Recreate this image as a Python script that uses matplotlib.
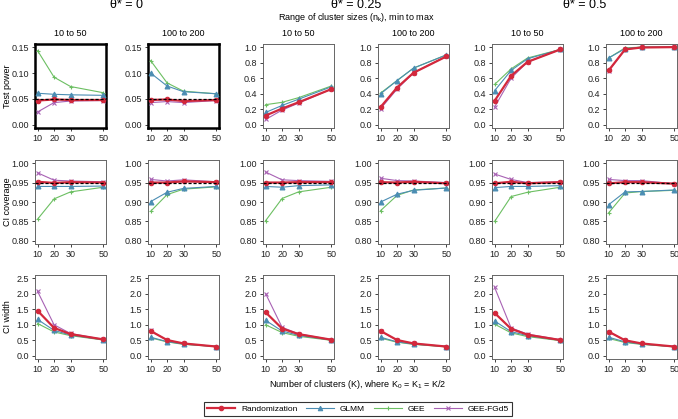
import numpy as np
import matplotlib
matplotlib.use('Agg')
import matplotlib.pyplot as plt
from matplotlib.lines import Line2D

# number of clusters
K = [10, 20, 30, 50]

methods = ['Randomization', 'GLMM', 'GEE', 'GEE-FGd5']
colors = {'Randomization': '#D3283C', 'GLMM': '#4B8DB3', 'GEE': '#6CBF62', 'GEE-FGd5': '#A862B4'}
markers = {'Randomization': 'o', 'GLMM': '^', 'GEE': '+', 'GEE-FGd5': 'x'}

theta_titles = ['θ* = 0', 'θ* = 0.25', 'θ* = 0.5']
size_titles = ['10 to 50', '100 to 200']

# test power, one dict per column (theta x cluster size range)
power = [
    {'Randomization': [0.047, 0.049, 0.048, 0.048], 'GLMM': [0.061, 0.059, 0.058, 0.057],
     'GEE': [0.143, 0.092, 0.074, 0.062], 'GEE-FGd5': [0.025, 0.043, 0.046, 0.047]},
    {'Randomization': [0.048, 0.049, 0.046, 0.048], 'GLMM': [0.100, 0.075, 0.064, 0.060],
     'GEE': [0.124, 0.081, 0.065, 0.060], 'GEE-FGd5': [0.043, 0.045, 0.043, 0.047]},
    {'Randomization': [0.12, 0.21, 0.29, 0.46], 'GLMM': [0.16, 0.25, 0.33, 0.49],
     'GEE': [0.26, 0.29, 0.35, 0.50], 'GEE-FGd5': [0.07, 0.19, 0.28, 0.46]},
    {'Randomization': [0.23, 0.48, 0.67, 0.88], 'GLMM': [0.40, 0.57, 0.73, 0.90],
     'GEE': [0.41, 0.57, 0.73, 0.90], 'GEE-FGd5': [0.21, 0.46, 0.67, 0.88]},
    {'Randomization': [0.31, 0.63, 0.81, 0.97], 'GLMM': [0.44, 0.70, 0.85, 0.97],
     'GEE': [0.52, 0.72, 0.86, 0.97], 'GEE-FGd5': [0.23, 0.60, 0.81, 0.97]},
    {'Randomization': [0.70, 0.97, 0.995, 1.0], 'GLMM': [0.86, 0.98, 1.0, 1.0],
     'GEE': [0.86, 0.99, 1.0, 1.0], 'GEE-FGd5': [0.69, 0.97, 0.995, 1.0]},
]

coverage = [
    {'Randomization': [0.952, 0.949, 0.951, 0.950], 'GLMM': [0.940, 0.940, 0.940, 0.941],
     'GEE': [0.856, 0.908, 0.926, 0.938], 'GEE-FGd5': [0.975, 0.956, 0.954, 0.952]},
    {'Randomization': [0.950, 0.950, 0.953, 0.951], 'GLMM': [0.901, 0.925, 0.935, 0.940],
     'GEE': [0.876, 0.919, 0.933, 0.939], 'GEE-FGd5': [0.958, 0.954, 0.957, 0.952]},
    {'Randomization': [0.950, 0.950, 0.951, 0.951], 'GLMM': [0.940, 0.938, 0.942, 0.944],
     'GEE': [0.852, 0.909, 0.926, 0.938], 'GEE-FGd5': [0.977, 0.957, 0.955, 0.953]},
    {'Randomization': [0.951, 0.950, 0.952, 0.948], 'GLMM': [0.900, 0.920, 0.930, 0.936],
     'GEE': [0.878, 0.917, 0.931, 0.936], 'GEE-FGd5': [0.961, 0.955, 0.954, 0.950]},
    {'Randomization': [0.948, 0.952, 0.948, 0.951], 'GLMM': [0.937, 0.940, 0.940, 0.942],
     'GEE': [0.850, 0.914, 0.925, 0.938], 'GEE-FGd5': [0.972, 0.958, 0.950, 0.952]},
    {'Randomization': [0.948, 0.951, 0.951, 0.947], 'GLMM': [0.893, 0.926, 0.927, 0.931],
     'GEE': [0.872, 0.923, 0.927, 0.930], 'GEE-FGd5': [0.958, 0.955, 0.955, 0.947]},
]

width = [
    {'Randomization': [1.45, 0.90, 0.70, 0.53], 'GLMM': [1.17, 0.82, 0.67, 0.52],
     'GEE': [1.04, 0.77, 0.65, 0.51], 'GEE-FGd5': [2.07, 1.00, 0.72, 0.53]},
    {'Randomization': [0.80, 0.51, 0.40, 0.30], 'GLMM': [0.60, 0.46, 0.38, 0.30],
     'GEE': [0.58, 0.45, 0.37, 0.30], 'GEE-FGd5': [0.82, 0.50, 0.40, 0.30]},
    {'Randomization': [1.40, 0.88, 0.70, 0.52], 'GLMM': [1.14, 0.80, 0.66, 0.51],
     'GEE': [1.00, 0.75, 0.63, 0.50], 'GEE-FGd5': [2.00, 0.92, 0.71, 0.52]},
    {'Randomization': [0.80, 0.51, 0.40, 0.30], 'GLMM': [0.60, 0.45, 0.38, 0.30],
     'GEE': [0.57, 0.44, 0.37, 0.29], 'GEE-FGd5': [0.80, 0.50, 0.40, 0.30]},
    {'Randomization': [1.38, 0.87, 0.68, 0.51], 'GLMM': [1.12, 0.78, 0.65, 0.50],
     'GEE': [1.02, 0.74, 0.62, 0.49], 'GEE-FGd5': [2.20, 0.90, 0.70, 0.52]},
    {'Randomization': [0.78, 0.50, 0.40, 0.30], 'GLMM': [0.60, 0.45, 0.38, 0.30],
     'GEE': [0.56, 0.43, 0.37, 0.29], 'GEE-FGd5': [0.78, 0.50, 0.39, 0.30]},
]

row_labels = ['Test power', 'CI coverage', 'CI width']

plt.rcParams['font.family'] = ['Liberation Sans', 'DejaVu Sans']

W, H = 678, 419
fig = plt.figure(figsize=(W / 100, H / 100), dpi=100)

col_left = [35, 148, 263, 378, 492, 606]
col_w = 71
row_top = [44, 160, 275]
row_h = 84


def ax_at(left, top):
    return fig.add_axes([left / W, 1 - (top + row_h) / H, col_w / W, row_h / H])


def draw(ax, d, nominal=None):
    for m in ['GEE-FGd5', 'GEE', 'GLMM', 'Randomization']:
        big = m == 'Randomization'
        ax.plot(K, d[m], color=colors[m], marker=markers[m],
                lw=1.6 if big else 0.8, ms=3.2 if big else 3.5,
                mew=0.8, zorder=4 if big else 3)
    if nominal is not None:
        ax.axhline(nominal, color='black', lw=0.9, ls=(0, (2.5, 1.5)), zorder=5)


for r, (data, ylim, yticks, fmt) in enumerate([
        (power, None, None, None),
        (coverage, (0.8, 1.0), np.arange(0.8, 1.001, 0.05), '%.2f'),
        (width, (0, 2.5), np.arange(0, 2.51, 0.5), '%.1f')]):
    for c in range(6):
        ax = ax_at(col_left[c], row_top[r])
        if r == 0:
            if c < 2:
                lo, hi = 0.0, 0.15
                yt = np.arange(0, 0.151, 0.05)
                f = '%.2f'
            else:
                lo, hi = 0.0, 1.0
                yt = np.arange(0, 1.01, 0.2)
                f = '%.1f'
        else:
            lo, hi = ylim
            yt = yticks
            f = fmt
        nominal = None
        if r == 0 and c < 2:
            nominal = 0.05
        if r == 1:
            nominal = 0.95
        draw(ax, data[c], nominal)
        pad = (hi - lo) * 0.04
        ax.set_ylim(lo - pad, hi + pad)
        ax.set_xlim(10 - 1.6, 50 + 1.6)
        ax.set_xticks(K)
        ax.set_xticklabels([str(k) for k in K])
        ax.set_yticks(yt)
        ax.set_yticklabels([f % v for v in yt])
        ax.tick_params(labelsize=6.5, length=2.5, width=0.6, pad=2, colors='#222222')
        ax.tick_params(axis='x', pad=1.5)
        highlight = (r == 0 and c < 2)
        for s in ax.spines.values():
            if highlight:
                s.set_color('black')
                s.set_linewidth(1.8)
            else:
                s.set_color('#666666')
                s.set_linewidth(0.7)
        if r == 0:
            ax.set_title(size_titles[c % 2], fontsize=6.5, pad=6)
    # row label at far left
    fig.text(8 / W, 1 - (row_top[r] + row_h / 2) / H, row_labels[r], rotation=90,
             ha='center', va='center', fontsize=6.5)

# column group titles
for i, t in enumerate(theta_titles):
    x0 = col_left[2 * i]
    x1 = col_left[2 * i + 1] + col_w
    fig.text((x0 + x1) / 2 / W, 1 - 5 / H, t, ha='center', va='center', fontsize=9)

fig.text(((col_left[2] + col_left[3] + col_w) / 2) / W, 1 - 17 / H,
         r'Range of cluster sizes (n$_\mathregular{k}$), min to max',
         ha='center', va='center', fontsize=6.5)

fig.text(358 / W, 1 - 384 / H,
         r'Number of clusters (K), where K$_\mathregular{0}$ = K$_\mathregular{1}$ = K/2',
         ha='center', va='center', fontsize=6.5)

handles = [Line2D([], [], color=colors[m], marker=markers[m],
                  lw=1.6 if m == 'Randomization' else 0.8, ms=3.2, mew=0.8)
           for m in methods]
leg = fig.legend(handles, methods, loc='center', bbox_to_anchor=(358 / W, 1 - 409 / H),
                 ncol=4, fontsize=6, handlelength=3.4, columnspacing=1.0,
                 frameon=True, fancybox=False, borderpad=0.35, handletextpad=0.7)
leg.get_frame().set_edgecolor('black')
leg.get_frame().set_linewidth(0.8)

fig.savefig('out.png', dpi=100)
